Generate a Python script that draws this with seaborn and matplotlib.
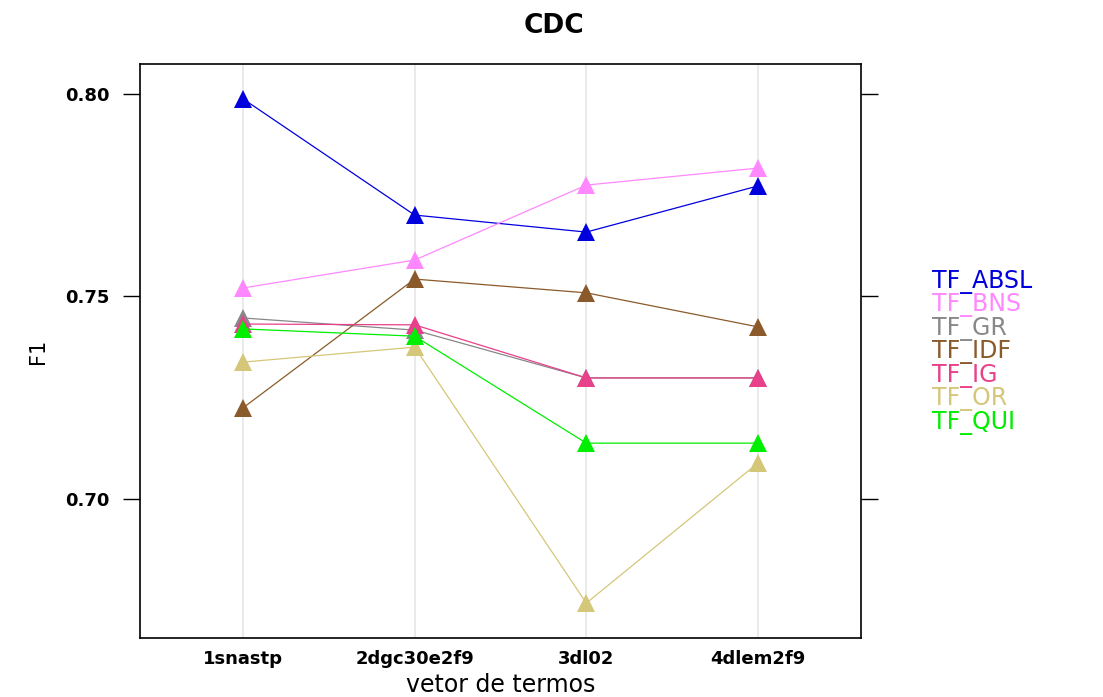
import matplotlib
matplotlib.use("Agg")
import matplotlib.pyplot as plt
import seaborn as sns
import pandas as pd

categories = ["1snastp", "2dgc30e2f9", "3dl02", "4dlem2f9"]
series_names = ["TF_ABSL", "TF_BNS", "TF_GR", "TF_IDF", "TF_IG", "TF_OR", "TF_QUI"]
tf_absl = [0.7988, 0.7701, 0.7659, 0.7773]
tf_bns = [0.7521, 0.7590, 0.7775, 0.7817]
tf_gr = [0.7447, 0.7417, 0.7299, 0.7299]
tf_idf = [0.7225, 0.7543, 0.7509, 0.7425]
tf_ig = [0.7432, 0.7430, 0.7299, 0.7299]
tf_or = [0.7338, 0.7375, 0.6743, 0.7089]
tf_qui = [0.7420, 0.7402, 0.7138, 0.7138]
colors = ["#0000DD", "#FF88FF", "#888888", "#8B5A2B", "#E8408A", "#D4C77A", "#00EE00"]

values = [tf_absl, tf_bns, tf_gr, tf_idf, tf_ig, tf_or, tf_qui]
rows = []
for name, vals in zip(series_names, values):
    for i, (c, v) in enumerate(zip(categories, vals)):
        rows.append({"serie": name, "pos": i, "cat": c, "F1": v})
df = pd.DataFrame(rows)

sns.set_style("white", rc={"text.color": "black", "axes.labelcolor": "black",
                           "xtick.color": "black", "ytick.color": "black"})
plt.rcParams["font.family"] = ["DejaVu Sans"]

fig = plt.figure(figsize=(11.03, 6.97), dpi=100)
ax = fig.add_axes([0.1269, 0.0847, 0.6537, 0.8235])

for x in range(len(categories)):
    ax.axvline(x, color="#E6E6E6", lw=1.2, zorder=0)

sns.lineplot(data=df, x="pos", y="F1", hue="serie", hue_order=series_names,
             palette=dict(zip(series_names, colors)), marker="^", markersize=13,
             markeredgewidth=0, linewidth=0.9, legend=False, ax=ax, sort=False)

ax.set_xlim(-0.6, 3.6)
ax.set_ylim(0.6657, 0.8074)
ax.set_xticks(range(len(categories)))
ax.set_xticklabels(categories, fontsize=13, fontweight="bold")
ax.set_yticks([0.70, 0.75, 0.80])
ax.set_yticklabels(["0.70", "0.75", "0.80"], fontsize=13, fontweight="bold")
ax.tick_params(axis="x", length=0, pad=9)
ax.tick_params(axis="y", which="both", left=True, right=True, direction="out",
               length=12, width=1, color="black", pad=10)
for sp in ax.spines.values():
    sp.set_color("black")
    sp.set_linewidth(1.2)
ax.set_xlabel("vetor de termos", fontsize=17, labelpad=3)
ax.set_ylabel("F1", fontsize=15, labelpad=12)

fig.text(0.502, 0.962, "CDC", ha="center", va="center", fontsize=19, fontweight="bold")

y0 = 282
for i, (name, col) in enumerate(zip(series_names, colors)):
    fig.text(932 / 1103, 1 - (y0 + i * 23.5) / 697, name, color=col,
             fontsize=17, ha="left", va="center")

fig.savefig("out.png", dpi=100)
